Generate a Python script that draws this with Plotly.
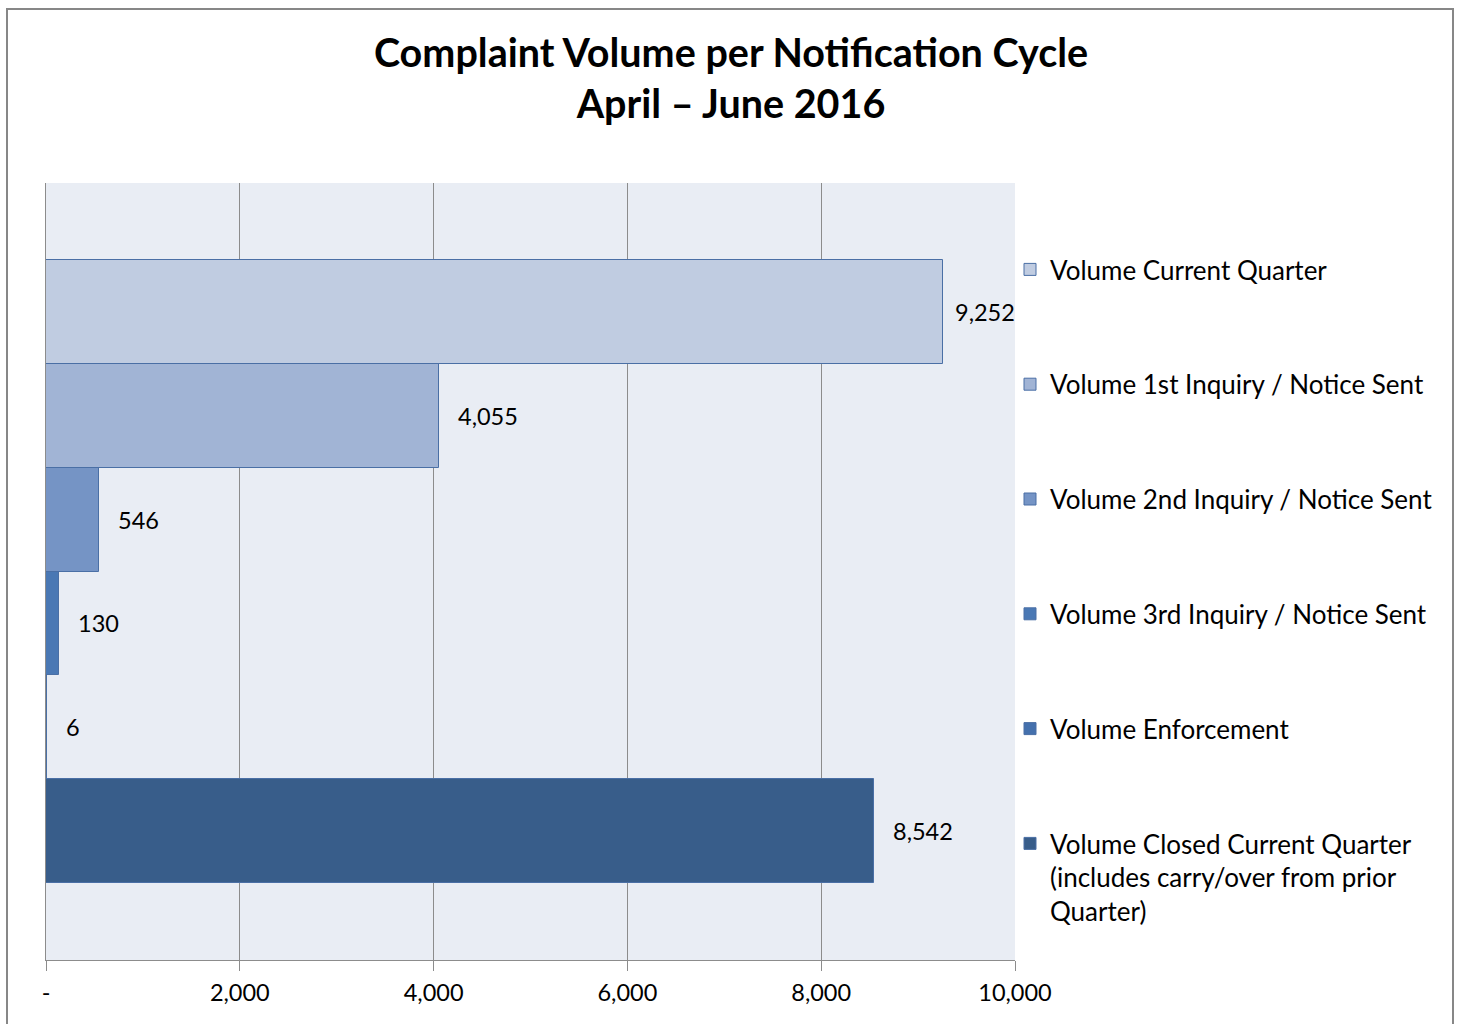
import plotly.graph_objects as go

# ---- data ----
series_names = [
    "Volume Current Quarter",
    "Volume 1st Inquiry / Notice Sent",
    "Volume 2nd Inquiry / Notice Sent",
    "Volume 3rd Inquiry / Notice Sent",
    "Volume Enforcement",
    "Volume Closed Current Quarter<br>(includes carry/over from prior<br>Quarter)",
]
series_values = [9252, 4055, 546, 130, 6, 8542]
series_colors = ["#C0CCE1", "#A1B4D5", "#7594C5", "#4A78B4", "#4470AD", "#385D8A"]
tick_vals = [0, 2000, 4000, 6000, 8000, 10000]
tick_text = ["-", "2,000", "4,000", "6,000", "8,000", "10,000"]

FONT = "Lato, 'Open Sans', sans-serif"
W, H = 1461, 1024
ML, MR, MT, MB = 46, 446, 183, 64
PW = W - ML - MR
PH = H - MT - MB
X_MAX = tick_vals[-1]

fig = go.Figure()
for i, (name, val, col) in enumerate(zip(series_names, series_values, series_colors)):
    fig.add_trace(go.Bar(
        name=name,
        y=[i], x=[val],
        orientation="h",
        marker=dict(color=col, line=dict(color="#4A6FA5", width=1)),
        legendgroup=f"g{i}",
        width=1.0,
        hoverinfo="x+name",
    ))
    # label sits right of the bar; if it would overflow the axis, it is pulled back inside
    if val > 0.9 * X_MAX:
        fig.add_annotation(
            x=X_MAX, y=i, xref="x", yref="y",
            text=f"{val:,}", showarrow=False,
            xanchor="right", yanchor="middle", xshift=2,
            font=dict(family=FONT, size=23.5, color="#000000"),
        )
    else:
        fig.add_annotation(
            x=val, y=i, xref="x", yref="y",
            text=f"{val:,}", showarrow=False,
            xanchor="left", yanchor="middle", xshift=17,
            font=dict(family=FONT, size=23.5, color="#000000"),
        )

# outer chart border
fig.add_shape(
    type="rect", xref="paper", yref="paper",
    x0=(7 - ML) / PW, x1=(1453 - ML) / PW,
    y0=(H - MB - 1040) / PH, y1=(H - MB - 9) / PH,
    line=dict(color="#878787", width=2), fillcolor="rgba(0,0,0,0)", layer="below",
)

fig.update_layout(
    width=W, height=H,
    margin=dict(l=ML, r=MR, t=MT, b=MB, autoexpand=False),
    paper_bgcolor="white",
    plot_bgcolor="#E9EDF4",
    barmode="overlay",
    bargap=0,
    title=dict(
        text="<b>Complaint Volume per Notification Cycle<br>April \u2013 June 2016</b>",
        x=(731 / W), xref="container", xanchor="center",
        y=1 - 67 / H, yref="container", yanchor="middle",
        font=dict(family=FONT, size=39.5, color="#000000"),
    ),
    showlegend=True,
    legend=dict(
        x=(1010 - ML) / PW, xanchor="left",
        y=(H - MB - 246) / PH, yanchor="top",
        traceorder="grouped",
        tracegroupgap=78,
        valign="top",
        font=dict(family=FONT, size=26, color="#000000"),
        bgcolor="rgba(0,0,0,0)",
        itemwidth=30,
    ),
    xaxis=dict(
        range=[0, X_MAX],
        tickvals=tick_vals, ticktext=tick_text,
        showgrid=True, gridcolor="#8C8C8C", gridwidth=1,
        showline=True, linecolor="#8C8C8C", linewidth=1,
        ticks="outside", ticklen=10, tickcolor="#8C8C8C",
        ticklabelstandoff=2,
        tickfont=dict(family=FONT, size=23.5, color="#000000"),
        zeroline=False,
    ),
    yaxis=dict(
        range=[6.24, -1.24],
        showticklabels=False, showgrid=False,
        showline=True, linecolor="#8C8C8C", linewidth=1,
        zeroline=False, ticks="",
    ),
)

fig.write_html("out.html", config={"displayModeBar": False},
               post_script="document.body.style.margin='0';")
